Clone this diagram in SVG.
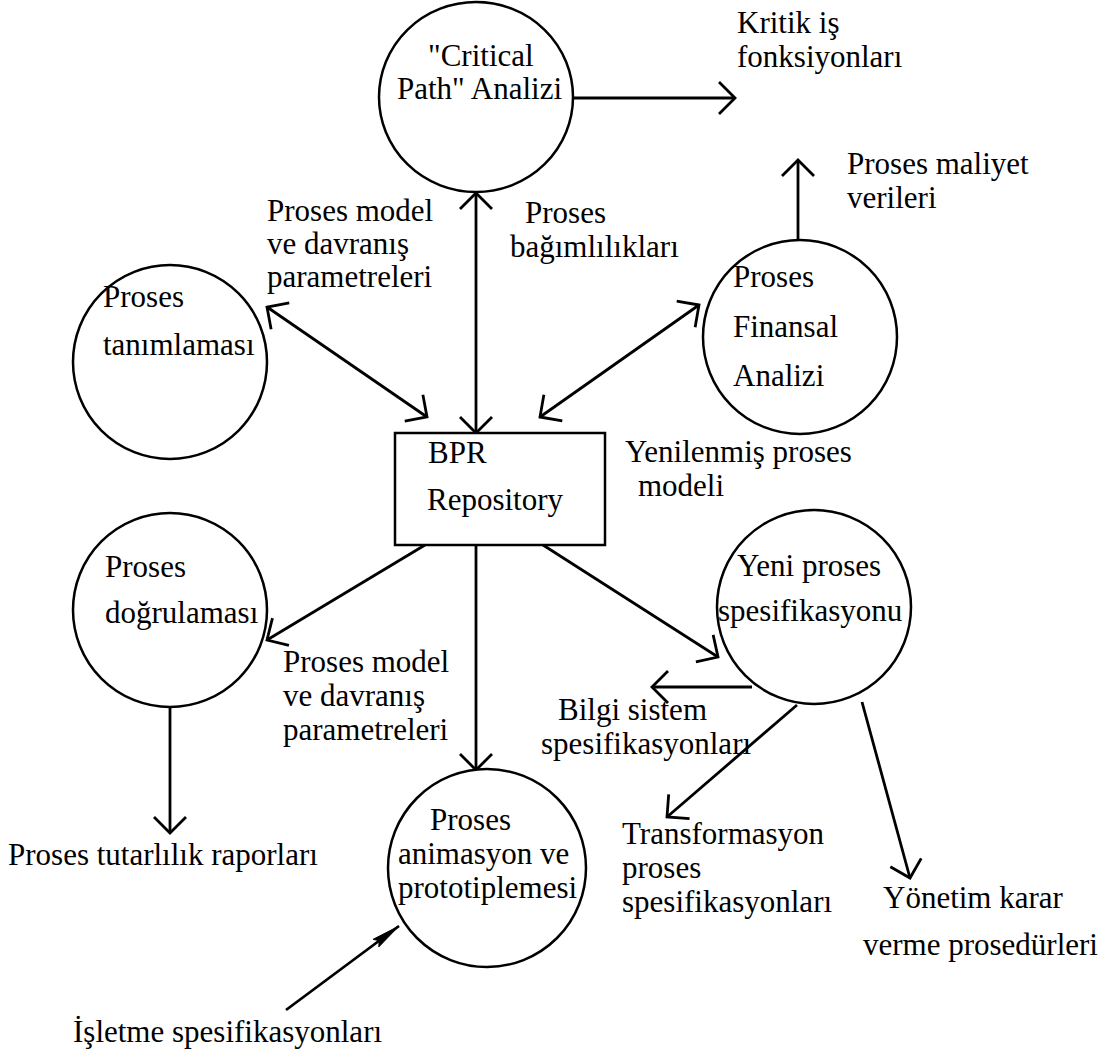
<svg xmlns="http://www.w3.org/2000/svg" width="1119" height="1054" viewBox="0 0 1119 1054">
  <style>
    text { font-family: "Liberation Serif", "Times New Roman", serif; font-size: 31px; fill: #000; }
    .node { fill: #fff; stroke: #000; stroke-width: 2.5; }
    .flow { fill: none; stroke: #000; stroke-width: 2.8; }
  </style>
  <defs>
    <marker id="open" markerUnits="userSpaceOnUse" markerWidth="40" markerHeight="40" viewBox="-20 -20 40 40" refX="0" refY="0" orient="auto-start-reverse" overflow="visible">
      <path d="M-16,-16 L0,0 L-16,16" fill="none" stroke="#000" stroke-width="2.8"/>
    </marker>
    <marker id="solid" markerUnits="userSpaceOnUse" markerWidth="40" markerHeight="40" viewBox="-40 -20 50 40" refX="0" refY="0" orient="auto" overflow="visible">
      <path d="M0,0 L-36,-6 L-31,0 L-36,6 Z" fill="#000" stroke="#000" stroke-width="1"/>
    </marker>
  </defs>
  <rect width="1119" height="1054" fill="#fff"/>

  <!-- connectors -->
  <g id="connectors">
    <path class="flow" d="M573,98 L735,98" marker-end="url(#open)"/>
    <path class="flow" d="M798,240 L798,160" marker-end="url(#open)"/>
    <path class="flow" d="M476,193 L476,433" marker-start="url(#open)" marker-end="url(#open)"/>
    <path class="flow" d="M267,307 L427,417" marker-start="url(#open)" marker-end="url(#open)"/>
    <path class="flow" d="M699,305 L540,417" marker-start="url(#open)" marker-end="url(#open)"/>
    <path class="flow" d="M425,545 L267,640" marker-end="url(#open)"/>
    <path class="flow" d="M476,545 L476,770" marker-end="url(#open)"/>
    <path class="flow" d="M543,545 L718,657" marker-end="url(#open)"/>
    <path class="flow" d="M752,687 L652,687" marker-end="url(#open)"/>
    <path class="flow" d="M797,705 L667,817" marker-end="url(#open)"/>
    <path class="flow" d="M862,702 L910,878" marker-end="url(#open)"/>
    <path class="flow" d="M170,707 L170,833" marker-end="url(#open)"/>
    <path class="flow" d="M286,1010 L399,926" marker-end="url(#solid)"/>
  </g>

  <!-- process nodes -->
  <g id="critical-path">
    <ellipse class="node" cx="476" cy="97" rx="97" ry="95"/>
    <text x="428" y="66">"Critical</text>
    <text x="397" y="99">Path" Analizi</text>
  </g>
  <g id="proses-tanimlamasi">
    <circle class="node" cx="170" cy="362" r="97"/>
    <text x="103" y="307">Proses</text>
    <text x="103" y="355">tanımlaması</text>
  </g>
  <g id="finansal-analiz">
    <circle class="node" cx="800" cy="337" r="97"/>
    <text x="733" y="287">Proses</text>
    <text x="733" y="337">Finansal</text>
    <text x="733" y="386">Analizi</text>
  </g>
  <g id="bpr-repository">
    <rect class="node" x="395" y="433" width="210" height="112"/>
    <text x="428" y="463">BPR</text>
    <text x="427" y="510">Repository</text>
  </g>
  <g id="proses-dogrulamasi">
    <circle class="node" cx="170" cy="610" r="97"/>
    <text x="105" y="577">Proses</text>
    <text x="105" y="623">doğrulaması</text>
  </g>
  <g id="yeni-proses">
    <circle class="node" cx="814" cy="607" r="97"/>
    <text x="737" y="576">Yeni proses</text>
    <text x="718" y="621">spesifikasyonu</text>
  </g>
  <g id="animasyon">
    <circle class="node" cx="487" cy="868" r="99"/>
    <text x="430" y="830">Proses</text>
    <text x="398" y="864">animasyon ve</text>
    <text x="398" y="898">prototiplemesi</text>
  </g>

  <!-- flow labels -->
  <g id="labels">
    <text x="737" y="33">Kritik iş</text>
    <text x="737" y="67">fonksiyonları</text>
    <text x="847" y="174">Proses maliyet</text>
    <text x="847" y="208">verileri</text>
    <text x="267" y="221">Proses model</text>
    <text x="267" y="254">ve davranış</text>
    <text x="267" y="287">parametreleri</text>
    <text x="525" y="223">Proses</text>
    <text x="510" y="257">bağımlılıkları</text>
    <text x="625" y="462">Yenilenmiş proses</text>
    <text x="638" y="496">modeli</text>
    <text x="283" y="672">Proses model</text>
    <text x="283" y="706">ve davranış</text>
    <text x="283" y="740">parametreleri</text>
    <text x="558" y="720">Bilgi sistem</text>
    <text x="541" y="754">spesifikasyonları</text>
    <text x="8" y="865">Proses tutarlılık raporları</text>
    <text x="622" y="844">Transformasyon</text>
    <text x="622" y="878">proses</text>
    <text x="622" y="912">spesifikasyonları</text>
    <text x="883" y="908">Yönetim karar</text>
    <text x="863" y="955">verme prosedürleri</text>
    <text x="73" y="1042">İşletme spesifikasyonları</text>
  </g>
</svg>
